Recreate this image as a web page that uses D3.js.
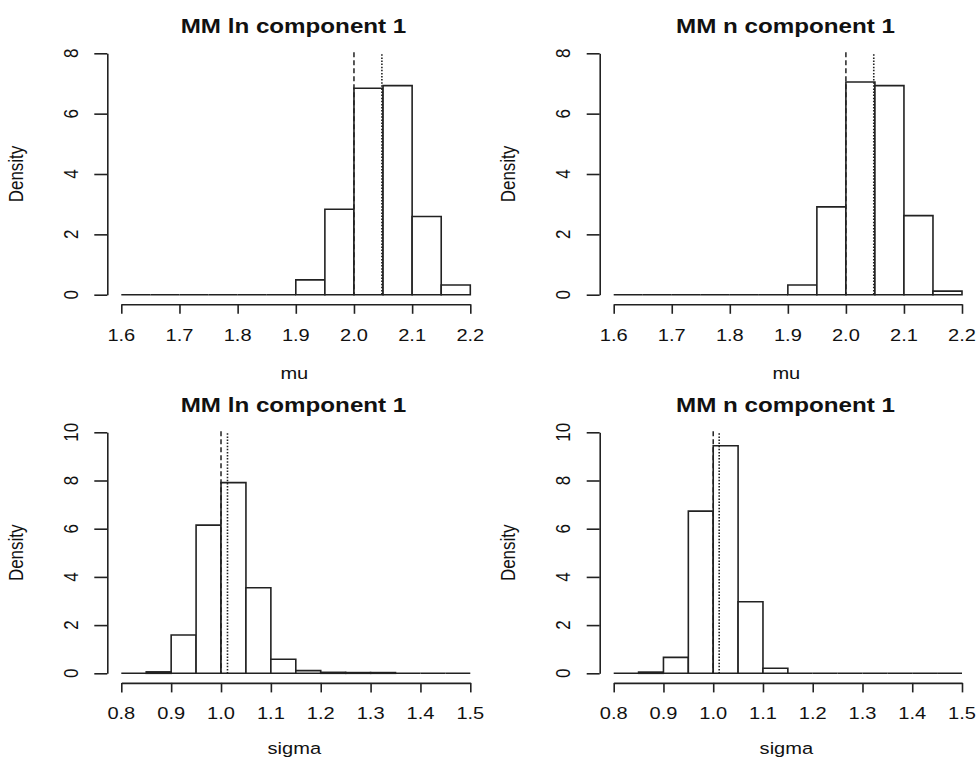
<!DOCTYPE html>
<html>
<head>
<meta charset="utf-8">
<script src="https://cdn.jsdelivr.net/npm/d3@7"></script>
<style>
  html, body { margin: 0; padding: 0; background: #fff; }
  svg { display: block; }
  text { font-family: "Liberation Sans", Arial, Helvetica, sans-serif; fill: #111; }
</style>
</head>
<body>
<svg id="chart" width="977" height="760"></svg>
<script>
// ---------------- data ----------------
const binWidth = 0.05;
const muBinStarts = [1.60, 1.65, 1.70, 1.75, 1.80, 1.85, 1.90, 1.95, 2.00, 2.05, 2.10, 2.15];
const lnMuDensity = [0, 0, 0, 0, 0, 0, 0.49, 2.83, 6.84, 6.93, 2.59, 0.32];
const nMuDensity  = [0, 0, 0, 0, 0, 0, 0.32, 2.91, 7.05, 6.93, 2.62, 0.12];

const sigmaBinStarts = [0.80, 0.85, 0.90, 0.95, 1.00, 1.05, 1.10, 1.15, 1.20, 1.25, 1.30, 1.35, 1.40, 1.45];
const lnSigmaDensity = [0, 0.06, 1.59, 6.15, 7.91, 3.55, 0.58, 0.11, 0.04, 0.03, 0.03, 0, 0, 0];
const nSigmaDensity  = [0, 0.05, 0.66, 6.73, 9.44, 2.97, 0.21, 0, 0, 0, 0, 0, 0, 0];

const muTicks = [1.6, 1.7, 1.8, 1.9, 2.0, 2.1, 2.2];
const sigmaTicks = [0.8, 0.9, 1.0, 1.1, 1.2, 1.3, 1.4, 1.5];
const muYTicks = [0, 2, 4, 6, 8];
const sigmaYTicks = [0, 2, 4, 6, 8, 10];

const titles = ["MM ln component 1", "MM n component 1", "MM ln component 1", "MM n component 1"];
const xLabels = ["mu", "mu", "sigma", "sigma"];
const trueValues = [2.0, 2.0, 1.0, 1.0];       // dashed lines
const meanValues = [2.048, 2.048, 1.013, 1.012]; // dotted lines

// ---------------- layout ----------------
const SX = 1.18;           // horizontal stretch of the original picture
const baseFont = 17;
const titleFont = 20.5;
const ink = "#222";

const panels = [
  { bins: muBinStarts, dens: lnMuDensity, xDom: [1.6, 2.2], xTicks: muTicks, yDom: [0, 8], yTicks: muYTicks,
    xr: [121.3, 470.3], yr: [294.7, 53.3], oy: 0, labGap: 75 },
  { bins: muBinStarts, dens: nMuDensity, xDom: [1.6, 2.2], xTicks: muTicks, yDom: [0, 8], yTicks: muYTicks,
    xr: [613.7, 962], yr: [294.7, 53.3], oy: 0, labGap: 75 },
  { bins: sigmaBinStarts, dens: lnSigmaDensity, xDom: [0.8, 1.5], xTicks: sigmaTicks, yDom: [0, 10], yTicks: sigmaYTicks,
    xr: [121.3, 470.3], yr: [673.3, 432.3], oy: 378.6, labGap: 71 },
  { bins: sigmaBinStarts, dens: nSigmaDensity, xDom: [0.8, 1.5], xTicks: sigmaTicks, yDom: [0, 10], yTicks: sigmaYTicks,
    xr: [613.7, 962], yr: [673.3, 432.3], oy: 378.6, labGap: 71 }
];

const svg = d3.select("#chart");

function addText(parent, str, x, y, opts = {}) {
  const g = parent.append("g")
    .attr("transform", `translate(${x},${y}) scale(${SX},1)` + (opts.rotate ? ` rotate(${opts.rotate})` : ""));
  g.append("text")
    .attr("x", 0).attr("y", 0)
    .attr("text-anchor", opts.anchor || "middle")
    .attr("font-size", opts.size || baseFont)
    .attr("font-weight", opts.bold ? "bold" : "normal")
    .text(str);
  return g;
}

panels.forEach((p, i) => {
  const g = svg.append("g");
  const x = d3.scaleLinear().domain(p.xDom).range(p.xr);
  const y = d3.scaleLinear().domain(p.yDom).range(p.yr);
  const y0 = y(0);
  const xAxisY = y0 + 9.6;
  const yAxisX = x(p.xDom[0]) - 14;

  // bars (paths so zero-height bins render as a line, like R's hist)
  g.selectAll("path.bar")
    .data(p.bins.map((b, k) => ({ x0: b, x1: b + binWidth, d: p.dens[k] })))
    .join("path")
    .attr("class", "bar")
    .attr("d", d => `M${x(d.x0)},${y0}V${y(d.d)}H${x(d.x1)}V${y0}Z`)
    .attr("fill", "#fff")
    .attr("stroke", ink)
    .attr("stroke-width", 1.6);

  // vertical reference lines
  const yTop = y(p.yDom[1]);
  g.append("line")
    .attr("x1", x(trueValues[i])).attr("x2", x(trueValues[i]))
    .attr("y1", yTop - 1).attr("y2", y0)
    .attr("stroke", ink).attr("stroke-width", 1.5)
    .attr("stroke-dasharray", "5,3");
  g.append("line")
    .attr("x1", x(meanValues[i])).attr("x2", x(meanValues[i]))
    .attr("y1", yTop + 1).attr("y2", y0)
    .attr("stroke", ink).attr("stroke-width", 1.6)
    .attr("stroke-dasharray", "1.5,1.6");

  // x axis
  const xa = g.append("g").attr("transform", `translate(0,${xAxisY})`)
    .call(d3.axisBottom(x).tickValues(p.xTicks).tickSize(9.5).tickSizeOuter(0).tickFormat(() => ""));
  xa.select(".domain").attr("stroke", ink).attr("stroke-width", 1.6);
  xa.selectAll(".tick line").attr("stroke", ink).attr("stroke-width", 1.6);
  p.xTicks.forEach(t => addText(g, d3.format(".1f")(t), x(t), xAxisY + 36.4));

  // y axis
  const ya = g.append("g").attr("transform", `translate(${yAxisX},0)`)
    .call(d3.axisLeft(y).tickValues(p.yTicks).tickSize(13).tickSizeOuter(0).tickFormat(() => ""));
  ya.select(".domain").attr("stroke", ink).attr("stroke-width", 1.6);
  ya.selectAll(".tick line").attr("stroke", ink).attr("stroke-width", 1.6);
  p.yTicks.forEach(t => addText(g, String(t), yAxisX - 29.5, y(t), { rotate: -90 }));

  // labels
  const cx = (p.xr[0] + p.xr[1]) / 2;
  addText(g, titles[i], cx - 2.3, p.oy + 33.3, { bold: true, size: titleFont });
  addText(g, xLabels[i], cx - 1.5, xAxisY + p.labGap, {});
  addText(g, "Density", yAxisX - 84.7, (p.yr[0] + p.yr[1]) / 2, { rotate: -90 });
});
</script>
</body>
</html>
